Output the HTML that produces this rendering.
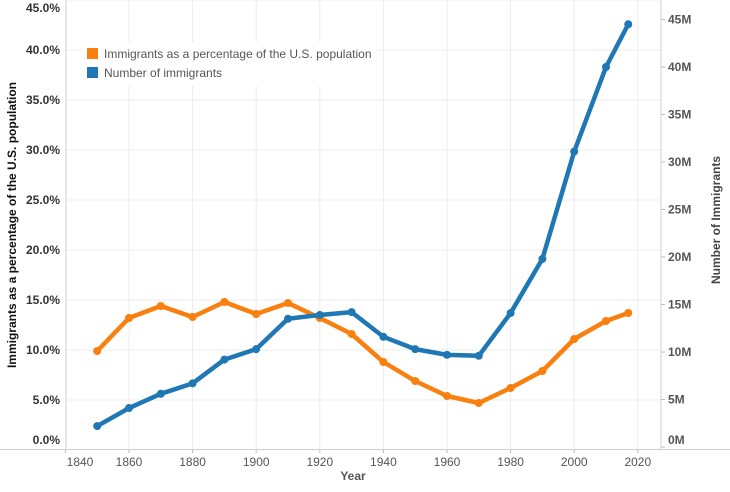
<!DOCTYPE html>
<html><head><meta charset="utf-8"><style>
body{margin:0;background:#fff;width:730px;height:487px;overflow:hidden}
svg text{font-family:"Liberation Sans",sans-serif}
</style></head><body>
<svg id="s" width="730" height="487" xmlns="http://www.w3.org/2000/svg">
<g id="grid" stroke="#ececec" stroke-width="1"></g>
<line x1="66" y1="0" x2="66" y2="449" stroke="#cfcfcf"/>
<line x1="661" y1="0" x2="661" y2="449" stroke="#cfcfcf"/>
<line x1="0" y1="449.5" x2="730" y2="449.5" stroke="#cfcfcf"/>
<g id="lab" font-size="12" font-weight="bold" fill="#333"></g>
<g id="ser"></g>
<rect x="82" y="42" width="294" height="44" fill="#fff"/>
<rect x="87" y="48" width="11" height="11" fill="#f97f0e"/>
<rect x="87" y="67" width="11" height="11" fill="#1f77b4"/>
<text x="104" y="58" font-size="12" fill="#555">Immigrants as a percentage of the U.S. population</text>
<text x="104" y="77" font-size="12" fill="#555">Number of immigrants</text>
<text x="353" y="480" font-size="12" font-weight="bold" fill="#555" text-anchor="middle">Year</text>
<text transform="translate(16,225) rotate(-90)" font-size="12" font-weight="bold" fill="#111" text-anchor="middle">Immigrants as a percentage of the U.S. population</text>
<text transform="translate(720,220) rotate(-90)" font-size="12" font-weight="bold" fill="#444" text-anchor="middle">Number of Immigrants</text>
</svg>
<script>
const ns="http://www.w3.org/2000/svg";
function el(p,t,a,txt){const e=document.createElementNS(ns,t);for(const k in a)e.setAttribute(k,a[k]);if(txt!=null)e.textContent=txt;document.getElementById(p).appendChild(e);return e;}
const X=y=>129+(y-1860)*3.18;
for(let p=5;p<=45;p+=5){const y=450-10*p;el('grid','line',{x1:66,x2:661,y1:y,y2:y});}
for(let yr=1860;yr<=2020;yr+=20){el('grid','line',{x1:X(yr),x2:X(yr),y1:0,y2:449});}
for(let p=0;p<=45;p+=5){let y=450-10*p+4;if(p==0)y=444;if(p==45)y=12;el('lab','text',{x:60,y:y,'text-anchor':'end'},p.toFixed(1)+'%');}
for(let m=0;m<=45;m+=5){const y=447-9.5*m;el('lab','text',{x:668,y:Math.min(y+4,444),fill:'#555'},m+'M');el('grid','line',{x1:661,x2:665,y1:y,y2:y,stroke:'#bbb'});}
for(let yr=1840;yr<=2020;yr+=20){let x=X(yr);if(yr==1840)x=80;el('lab','text',{x:x,y:466,'text-anchor':'middle',fill:'#555','font-weight':'normal'},yr);el('grid','line',{x1:X(yr),x2:X(yr),y1:449,y2:453,stroke:'#bbb'});}
const yrs=[1850,1860,1870,1880,1890,1900,1910,1920,1930,1940,1950,1960,1970,1980,1990,2000,2010,2017];
const pct=[9.9,13.2,14.4,13.3,14.8,13.6,14.7,13.2,11.6,8.8,6.9,5.4,4.7,6.2,7.9,11.1,12.9,13.7];
const mil=[2.2,4.1,5.6,6.7,9.2,10.3,13.5,13.9,14.2,11.6,10.3,9.7,9.6,14.1,19.8,31.1,40.0,44.5];
function series(v,f,c){const pts=yrs.map((y,i)=>[X(y),f(v[i])]);el('ser','polyline',{points:pts.map(p=>p.join(',')).join(' '),fill:'none',stroke:c,'stroke-width':4.5,'stroke-linejoin':'round'});pts.forEach(p=>el('ser','circle',{cx:p[0],cy:p[1],r:4,fill:c}));}
series(pct,p=>450-10*p,'#f97f0e');
series(mil,m=>447-9.5*m,'#1f77b4');
</script>
</body></html>
